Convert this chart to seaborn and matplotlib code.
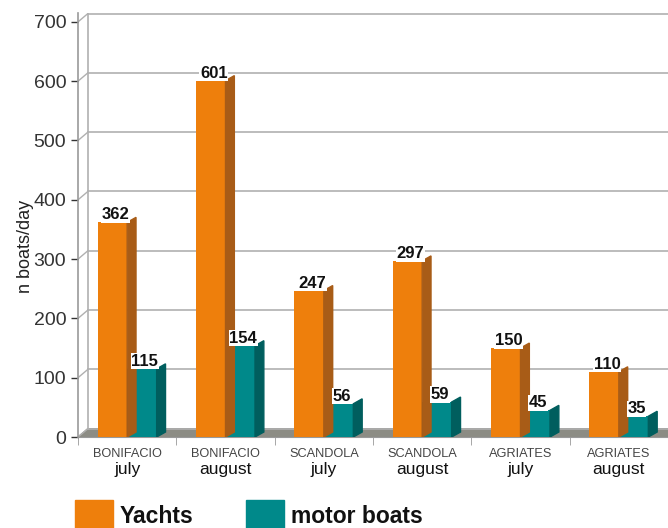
import pandas as pd
import seaborn as sns
import matplotlib.pyplot as plt
from matplotlib.patches import Polygon, Rectangle

# chart data
sites = ['BONIFACIO', 'BONIFACIO', 'SCANDOLA', 'SCANDOLA', 'AGRIATES', 'AGRIATES']
months = ['july', 'august', 'july', 'august', 'july', 'august']
yachts = [362, 601, 247, 297, 150, 110]
motor_boats = [115, 154, 56, 59, 45, 35]
series_names = ['Yachts', 'motor boats']
y_ticks = [0, 100, 200, 300, 400, 500, 600, 700]

colors = ['#EE7F0C', '#00898A']
side_colors = ['#A85C17', '#005E5E']

labels = [f'{s}\n{m}' for s, m in zip(sites, months)]
df = pd.DataFrame({
    'place': labels * 2,
    'series': [series_names[0]] * 6 + [series_names[1]] * 6,
    'boats': yachts + motor_boats,
})

plt.rcParams['font.family'] = ['Liberation Sans', 'DejaVu Sans']
fig = plt.figure(figsize=(6.68, 5.28), dpi=100)
ax = fig.add_axes([78 / 668, 1 - 437 / 528, 1 - 78 / 668, (437 - 13) / 528])

sns.barplot(data=df, x='place', y='boats', hue='series', palette=colors,
            width=0.6, saturation=1, legend=False, ax=ax, zorder=3)

dx, dy = 0.1, 14  # fake depth
ax.set_xlim(-0.5, 5.5)
ax.set_ylim(0, 715)

# floor and back wall
ax.add_patch(Polygon([(-0.5, 0), (5.5, 0), (5.6, dy), (-0.5 + dx, dy)],
                     closed=True, color='#8C8C84', zorder=1, clip_on=False))
ax.plot([-0.5 + dx, -0.5 + dx], [dy, 700 + dy], color='#B0B0B0', lw=1.2, zorder=1)
for v in y_ticks:
    ax.plot([-0.5 + dx, 5.5], [v + dy, v + dy], color='#B0B0B0', lw=1.2, zorder=1)
    ax.plot([-0.5, -0.5 + dx], [v, v + dy], color='#B0B0B0', lw=1, zorder=1)

# side faces and value labels
for i, cont in enumerate(ax.containers):
    for bar, val in zip(cont, df[df['series'] == series_names[i]]['boats']):
        x1 = bar.get_x() + bar.get_width()
        h = bar.get_height()
        ax.add_patch(Polygon([(x1, 0), (x1 + dx * 0.9, dy * 0.6), (x1 + dx * 0.9, h + dy * 0.6), (x1, h)],
                             closed=True, color=side_colors[i], zorder=3))
        ax.text(bar.get_x() + bar.get_width() / 2 + 0.03, h, str(val), ha='center', va='bottom',
                fontsize=12, fontweight='bold', color='#111111', zorder=5,
                bbox=dict(facecolor='white', edgecolor='none', pad=0.5))

ax.set_xlabel('')
ax.set_ylabel('n boats/day', fontsize=13, color='#222222')
ax.yaxis.set_label_coords(-0.075, 0.45)
ax.set_yticks(y_ticks)
ax.tick_params(axis='y', labelsize=14, colors='#333333', length=5, width=1)
ax.set_xticks(range(6))
ax.set_xticklabels(sites, fontsize=9.2, color='#444444')
ax.tick_params(axis='x', length=0, pad=8)
ax.set_xticks([i + 0.5 for i in range(-1, 6)], minor=True)
ax.tick_params(axis='x', which='minor', length=6, color='#999999')
for i, m in enumerate(months):
    ax.text(i, -42, m, ha='center', va='top', fontsize=12.5, color='#111111')

for s in ['top', 'right']:
    ax.spines[s].set_visible(False)
ax.spines['left'].set_color('#999999')
ax.spines['bottom'].set_color('#999999')
ax.spines['left'].set_linewidth(1.2)

# legend
for name, c, x0 in zip(series_names, colors, [75, 246]):
    fig.add_artist(Rectangle((x0 / 668, 0), 38 / 668, 28 / 528, transform=fig.transFigure,
                             color=c))
    fig.text((x0 + 45) / 668, 5 / 528, name, fontsize=16.5, fontweight='bold', color='#111111',
             ha='left', va='baseline')

fig.savefig('out.png', dpi=100)
